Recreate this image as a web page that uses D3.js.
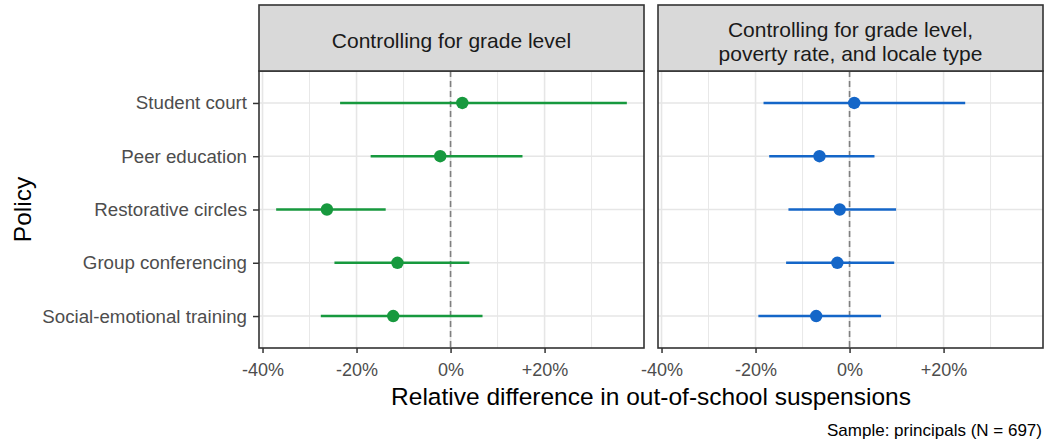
<!DOCTYPE html>
<html>
<head>
<meta charset="utf-8">
<script src="https://cdn.jsdelivr.net/npm/d3@7"></script>
<style>
  html, body { margin: 0; padding: 0; background: #ffffff; }
  svg { display: block; font-family: "Liberation Sans", Arial, Helvetica, sans-serif; }
</style>
</head>
<body>
<svg id="chart" width="1048" height="445"></svg>
<script>
// Policies, top to bottom
const policies = ["Student court", "Peer education", "Restorative circles", "Group conferencing", "Social-emotional training"];

// Model 1: controlling for grade level (relative difference, %)
const gradeEst  = [2.5, -2.2, -26.3, -11.3, -12.2];
const gradeLow  = [-23.5, -17.0, -37.1, -24.7, -27.6];
const gradeHigh = [37.5, 15.3, -13.8, 4.0, 6.8];

// Model 2: controlling for grade level, poverty rate, and locale type
const fullEst  = [1.0, -6.4, -2.1, -2.6, -7.1];
const fullLow  = [-18.3, -17.1, -13.0, -13.5, -19.4];
const fullHigh = [24.6, 5.3, 9.9, 9.5, 6.7];

const panelTitles = [["Controlling for grade level"], ["Controlling for grade level,", "poverty rate, and locale type"]];
const majorTicks = [-40, -20, 0, 20];
const minorTicks = [-30, -10, 10, 30];
const xTitle = "Relative difference in out-of-school suspensions";
const yTitle = "Policy";
const caption = "Sample: principals (N = 697)";

const panels = [
  { title: panelTitles[0], est: gradeEst, low: gradeLow, high: gradeHigh, color: "#17993e" },
  { title: panelTitles[1], est: fullEst,  low: fullLow,  high: fullHigh,  color: "#1466c8" }
];

const svg = d3.select("#chart");
const panelX = [259, 658];
const panelW = 385;
const stripTop = 5, stripBottom = 71, panelBottom = 348;

const x = d3.scaleLinear().domain([-40.75, 41.15]).range([0, panelW]);
const y = d3.scalePoint().domain(policies).range([stripBottom, panelBottom]).padding(0.6);
const fmt = v => (v > 0 ? "+" : "") + v + "%";

panels.forEach((p, i) => {
  const g = svg.append("g").attr("transform", `translate(${panelX[i]},0)`);

  // background
  g.append("rect").attr("x", 0).attr("y", stripBottom).attr("width", panelW)
    .attr("height", panelBottom - stripBottom).attr("fill", "#ffffff");

  // minor vertical grid
  g.selectAll(".minor").data(minorTicks.filter(v => v > x.domain()[0] && v < x.domain()[1]))
    .join("line").attr("class", "minor")
    .attr("x1", d => x(d)).attr("x2", d => x(d))
    .attr("y1", stripBottom).attr("y2", panelBottom)
    .attr("stroke", "#e8e8e8").attr("stroke-width", 1);

  // major vertical grid
  g.selectAll(".majorx").data(majorTicks)
    .join("line").attr("class", "majorx")
    .attr("x1", d => x(d)).attr("x2", d => x(d))
    .attr("y1", stripBottom).attr("y2", panelBottom)
    .attr("stroke", "#e6e6e6").attr("stroke-width", 1.6);

  // major horizontal grid
  g.selectAll(".majory").data(policies)
    .join("line").attr("class", "majory")
    .attr("x1", 0).attr("x2", panelW)
    .attr("y1", d => y(d)).attr("y2", d => y(d))
    .attr("stroke", "#e6e6e6").attr("stroke-width", 1.6);

  // zero reference line
  g.append("line")
    .attr("x1", x(0)).attr("x2", x(0))
    .attr("y1", stripBottom).attr("y2", panelBottom)
    .attr("stroke", "#7f7f7f").attr("stroke-width", 1.6)
    .attr("stroke-dasharray", "6,4");

  // intervals
  g.selectAll(".ci").data(policies)
    .join("line").attr("class", "ci")
    .attr("x1", (d, j) => x(p.low[j])).attr("x2", (d, j) => x(p.high[j]))
    .attr("y1", d => y(d)).attr("y2", d => y(d))
    .attr("stroke", p.color).attr("stroke-width", 2.4);

  // point estimates
  g.selectAll(".pt").data(policies)
    .join("circle").attr("class", "pt")
    .attr("cx", (d, j) => x(p.est[j])).attr("cy", d => y(d))
    .attr("r", 6.2).attr("fill", p.color);

  // panel border
  g.append("rect").attr("x", 0).attr("y", stripBottom).attr("width", panelW)
    .attr("height", panelBottom - stripBottom)
    .attr("fill", "none").attr("stroke", "#333333").attr("stroke-width", 1.6);

  // strip
  g.append("rect").attr("x", 0).attr("y", stripTop).attr("width", panelW)
    .attr("height", stripBottom - stripTop)
    .attr("fill", "#d9d9d9").attr("stroke", "#333333").attr("stroke-width", 1.6);
  const baselines = p.title.length === 1 ? [48] : [37, 61];
  p.title.forEach((t, k) => {
    g.append("text").attr("x", panelW / 2).attr("y", baselines[k])
      .attr("text-anchor", "middle").attr("font-size", 21).attr("fill", "#1a1a1a")
      .text(t);
  });

  // x axis
  const xa = g.append("g").attr("transform", `translate(0,${panelBottom})`)
    .call(d3.axisBottom(x).tickValues(majorTicks).tickFormat(fmt).tickSize(5).tickPadding(10));
  xa.select(".domain").remove();
  xa.selectAll("line").attr("stroke", "#333333").attr("stroke-width", 1.5);
  xa.selectAll("text").attr("font-size", 18).attr("fill", "#4d4d4d")
    .attr("font-family", "Liberation Sans, Arial, sans-serif");

  // y axis on first panel only
  if (i === 0) {
    const ya = g.append("g").call(d3.axisLeft(y).tickSize(6).tickPadding(6));
    ya.select(".domain").remove();
    ya.selectAll("line").attr("stroke", "#333333").attr("stroke-width", 1.5);
    ya.selectAll("text").attr("font-size", 18.7).attr("fill", "#4d4d4d")
      .attr("font-family", "Liberation Sans, Arial, sans-serif");
  }
});

// axis titles
svg.append("text").attr("x", (panelX[0] + panelX[1] + panelW) / 2).attr("y", 405)
  .attr("text-anchor", "middle").attr("font-size", 24.5).attr("fill", "#000000")
  .text(xTitle);

svg.append("text").attr("transform", `translate(31,${(stripBottom + panelBottom) / 2}) rotate(-90)`)
  .attr("text-anchor", "middle").attr("font-size", 24.5).attr("fill", "#000000")
  .text(yTitle);

// caption
svg.append("text").attr("x", 1042).attr("y", 436)
  .attr("text-anchor", "end").attr("font-size", 17).attr("fill", "#000000")
  .text(caption);
</script>
</body>
</html>
